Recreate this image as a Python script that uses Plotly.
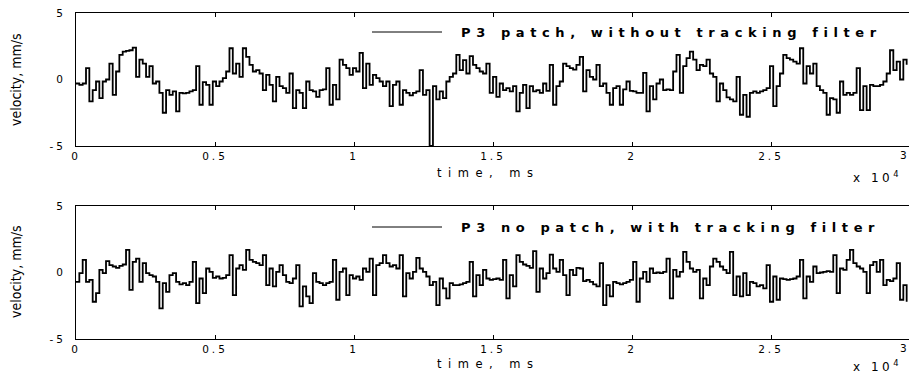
import plotly.graph_objects as go

# Sampling clock of the velocity records (ms per sample)
SAMPLE_STEP_MS = 120

# P3 patch, without tracking filter (mm/s)
patch_no_filter = [
    -0.3, -0.4, -0.3, 0.85, -1.65, -0.8, -0.15, -1.4, -0.15, 0.0,
    1.2, -1.15, 0.6, 1.85, 2.1, 2.15, 2.2, 2.4, 0.2, 1.5,
    1.2, 0.2, 1.0, -0.3, -0.15, -1.0, -2.5, -0.8, -1.15, -0.9,
    -2.4, -1.0, -1.05, -1.0, -0.9, -0.8, 1.0, -1.9, -0.2, -0.4,
    -1.9, -0.15, -0.5, -0.15, 0.1, 0.6, 2.35, 0.45, 1.2, 0.2,
    2.35, 1.7, 1.1, 0.6, 0.7, 0.45, -0.8, 0.35, -0.4, -1.65,
    0.2, -0.5, -0.65, -1.0, 0.45, -2.15, -0.8, -1.0, -2.15, -0.15,
    -0.8, -0.9, -1.3, -0.8, -0.75, 0.85, -1.9, -0.4, -1.5, 1.5,
    1.1, 0.85, 0.35, 0.85, 0.6, 2.0, -0.65, 1.2, -0.4, 0.35,
    0.1, -0.15, -0.5, -0.15, -2.0, -0.4, -0.15, -1.9, -0.8, -1.0,
    -1.2, -1.0, -0.9, 0.7, -1.15, -0.8, -5.0, -0.5, -1.5, -0.9,
    -1.4, -0.15, 0.2, 0.45, 1.85, 0.7, 1.45, 0.45, 1.75, 1.1,
    0.85, 0.6, 0.45, 1.2, -1.0, 0.2, -1.3, -0.3, -0.8, -0.65,
    -0.9, -0.5, -2.4, -1.0, -0.4, -2.15, -0.5, -0.9, -0.8, -1.0,
    -0.3, -0.85, 1.1, -1.9, -0.5, -0.15, 1.2, 1.0, 0.85, 0.75,
    1.1, 1.7, -0.9, 0.7, 0.2, 0.0, 1.1, -0.5, -0.3, -1.0,
    -1.9, -0.65, -0.5, -1.9, -0.75, -0.15, -0.85, -0.9, -1.0, -1.0,
    0.5, -2.4, -0.5, -1.5, -0.3, 0.0, -0.8, -0.75, -0.8, 0.6,
    1.85, -1.0, 1.0, 1.6, 2.1, 1.5, 0.7, 1.1, 1.0, 1.5,
    0.45, 0.2, -1.65, -0.3, -0.8, -1.35, -1.5, -1.65, 0.2, -2.65,
    -1.15, -2.8, -1.0, -0.9, -1.0, -0.9, -0.8, -0.65, 1.0, -2.0,
    -0.5, 0.45, 1.85, 1.6, 1.5, 1.35, 1.2, 2.35, -0.3, 1.0,
    0.45, 1.2, -0.5, -0.8, -1.0, -2.65, -1.4, -1.5, -2.5, -0.15,
    -1.15, -1.0, -1.15, -1.0, 0.85, -2.3, -0.5, -2.3, -0.4, -0.5,
    -0.5, -0.4, -0.15, 0.45, 2.2, 0.7, 1.35, 0.0, 1.5, 1.1,
]

# P3 no patch, with tracking filter (mm/s)
no_patch_filter = [
    -0.7, -0.05, 0.95, -0.7, -0.55, -2.2, -1.55, 0.2, -0.05, 0.85,
    0.55, 0.45, 0.35, 0.5, 0.6, 1.7, -1.3, 0.8, 1.05, -0.7,
    0.7, -0.05, -0.2, -0.3, -0.7, -2.7, -0.8, -1.45, -0.2, -0.05,
    -0.7, -0.9, -0.8, -0.95, -0.7, 0.8, -2.3, -0.45, -1.55, 0.3,
    0.05, -0.4, -0.3, -0.45, -0.4, -0.2, 1.3, -1.7, 0.3, 0.55,
    0.2, 1.7, 0.95, 0.8, 0.7, 0.55, 1.3, -0.95, 0.3, -1.05,
    0.05, 0.55, -0.2, -0.7, -0.8, -0.45, 0.55, -2.55, -1.05, -1.8,
    -2.3, -0.05, -0.7, -0.8, -0.95, -0.8, -0.7, 0.95, -2.05, 0.05,
    0.3, -1.7, -0.2, -0.45, -0.3, -0.55, 0.3, 0.05, 1.05, -1.7,
    0.55, 0.7, 1.3, 0.7, 0.45, 0.55, 0.3, 1.3, -1.8, -0.05,
    -0.45, 0.05, 1.1, 0.3, 0.05, -0.3, -0.95, -0.7, -2.45, -0.45,
    -1.2, -1.95, -0.8, -0.95, -0.95, -0.9, -0.8, -0.7, 0.8, -1.8,
    -0.2, -0.95, 0.2, -0.45, -0.55, -0.5, -0.45, -0.55, 0.95, -1.95,
    -0.2, -1.05, 1.3, 0.8, 0.6, 0.5, 0.35, 1.6, -1.45, 0.3,
    -0.45, -0.05, 1.35, 0.3, 0.05, 0.95, -0.2, -1.7, 0.2, -0.2,
    0.35, 0.3, -0.65, -0.55, -0.7, -0.9, -1.05, 0.7, -2.45, -0.95,
    -1.8, -0.7, -0.8, -0.9, -0.8, -0.7, -0.55, 0.8, -2.2, -0.45,
    0.05, -0.7, 0.3, -0.05, 0.0, -0.05, 0.05, 1.05, -1.95, 0.2,
    -0.3, 0.05, 1.55, 0.8, 0.3, 0.05, 0.2, -1.95, -0.45, -0.95,
    0.45, 1.05, 0.8, 0.45, 0.2, -0.05, 1.55, -1.7, -0.3, -1.8,
    -0.05, -1.7, -0.7, -0.8, -1.05, -0.95, -1.2, 0.55, -2.2, -0.3,
    -2.05, -0.45, -0.5, -0.55, -0.5, -0.45, -0.3, 0.95, -1.95, -0.3,
    -0.7, 0.45, -0.05, 0.0, 0.05, 0.1, 0.05, 1.3, -1.55, 0.3,
    0.2, 0.95, 1.7, 0.7, 0.45, 0.3, 0.05, -1.55, 0.55, 0.8,
    0.05, 0.95, -0.95, -0.55, -0.65, -0.45, 0.7, -2.05, -0.95, -2.2,
]

time_ms = [i * SAMPLE_STEP_MS for i in range(len(patch_no_filter))]

x_tick_vals = [0, 5000, 10000, 15000, 20000, 25000]
x_tick_text = ["0", "0.5", "1", "1.5", "2", "2.5"]
y_tick_vals = [-5, 0, 5]
y_tick_text = ["-5", "0", "5"]

legend_labels = ["P3 patch, without tracking filter", "P3 no patch, with tracking filter"]

TICK_FONT = dict(family="DejaVu Sans", size=10.5, color="black")
W, H = 909, 376
ML, MR, MT, MB = 76, 0, 13, 37
PW, PH = W - ML - MR, H - MT - MB


def px_x(px):
    return (px - ML) / PW


def px_y(py):
    return (H - MB - py) / PH


def spaced(text, gap):
    return '<span style="letter-spacing:%spx">%s</span>' % (gap, text)


fig = go.Figure()
fig.add_trace(go.Scatter(x=time_ms, y=patch_no_filter, mode="lines", line_shape="hv",
                         line=dict(color="black", width=1.8), xaxis="x", yaxis="y",
                         name=legend_labels[0], showlegend=False))
fig.add_trace(go.Scatter(x=time_ms, y=no_patch_filter, mode="lines", line_shape="hv",
                         line=dict(color="black", width=1.8), xaxis="x2", yaxis="y2",
                         name=legend_labels[1], showlegend=False))

x_end = 30000 * PW / (PW + 1)
xcommon = dict(range=[0, x_end], tickvals=x_tick_vals,
               ticktext=[spaced(t, 3) for t in x_tick_text],
               showline=True, linecolor="black", linewidth=1, mirror="ticks",
               ticks="inside", ticklen=4, tickcolor="black", showgrid=False,
               zeroline=False, tickfont=TICK_FONT, ticklabelstandoff=0)
ycommon = dict(range=[-5, 5], tickvals=y_tick_vals,
               ticktext=[spaced(t, 3) for t in y_tick_text],
               showline=True, linecolor="black", linewidth=1, ticks="",
               showgrid=False, zeroline=False, tickfont=TICK_FONT,
               ticklabelstandoff=7)

fig.update_layout(
    width=W, height=H,
    margin=dict(l=ML, r=MR, t=MT, b=MB),
    paper_bgcolor="white", plot_bgcolor="white",
    xaxis=dict(domain=[0, 1], anchor="y", **xcommon),
    yaxis=dict(domain=[px_y(146), 1], anchor="x", **ycommon),
    xaxis2=dict(domain=[0, 1], anchor="y2", **xcommon),
    yaxis2=dict(domain=[0, px_y(206)], anchor="x2", **ycommon),
    showlegend=False,
)

annotations = []
shapes = []
panels = [
    # (legend y, y-title centre, x-title centre, exponent y, last tick label y)
    (32, 80, 173, 177, 155),
    (227, 272, 364, 366, 348),
]
for k, (ly, yt, xt, ey, tl) in enumerate(panels):
    # legend key line and label
    shapes.append(dict(type="line", xref="paper", yref="paper",
                       x0=px_x(372), x1=px_x(442), y0=px_y(ly), y1=px_y(ly),
                       line=dict(color="black", width=1)))
    annotations.append(dict(
        xref="paper", yref="paper", x=px_x(459), y=px_y(ly),
        xanchor="left", yanchor="middle", showarrow=False,
        text=spaced(legend_labels[k], 5.6),
        font=dict(family="DejaVu Sans", size=13, color="black", weight="bold")))
    # y-axis title
    annotations.append(dict(
        xref="paper", yref="paper", x=px_x(16), y=px_y(yt),
        xanchor="center", yanchor="middle", showarrow=False, textangle=-90,
        text="velocity, mm/s",
        font=dict(family="Liberation Sans Narrow, DejaVu Sans Condensed, sans-serif",
                  size=14, color="black")))
    # x-axis title
    annotations.append(dict(
        xref="paper", yref="paper", x=px_x(488), y=px_y(xt),
        xanchor="center", yanchor="middle", showarrow=False,
        text=spaced("time, ms", 6.5),
        font=dict(family="DejaVu Sans", size=11.5, color="black")))
    # scale exponent
    annotations.append(dict(
        xref="paper", yref="paper", x=px_x(851), y=px_y(ey),
        xanchor="left", yanchor="middle", showarrow=False,
        text=spaced("x 10<sup>4</sup>", 3.5),
        font=dict(family="DejaVu Sans", size=12, color="black")))
    # last x tick label sits against the right edge
    annotations.append(dict(
        xref="paper", yref="paper", x=1, y=px_y(tl),
        xanchor="right", yanchor="middle", showarrow=False,
        text="3", font=TICK_FONT))

fig.update_layout(annotations=annotations, shapes=shapes)

fig.write_html("out.html")
